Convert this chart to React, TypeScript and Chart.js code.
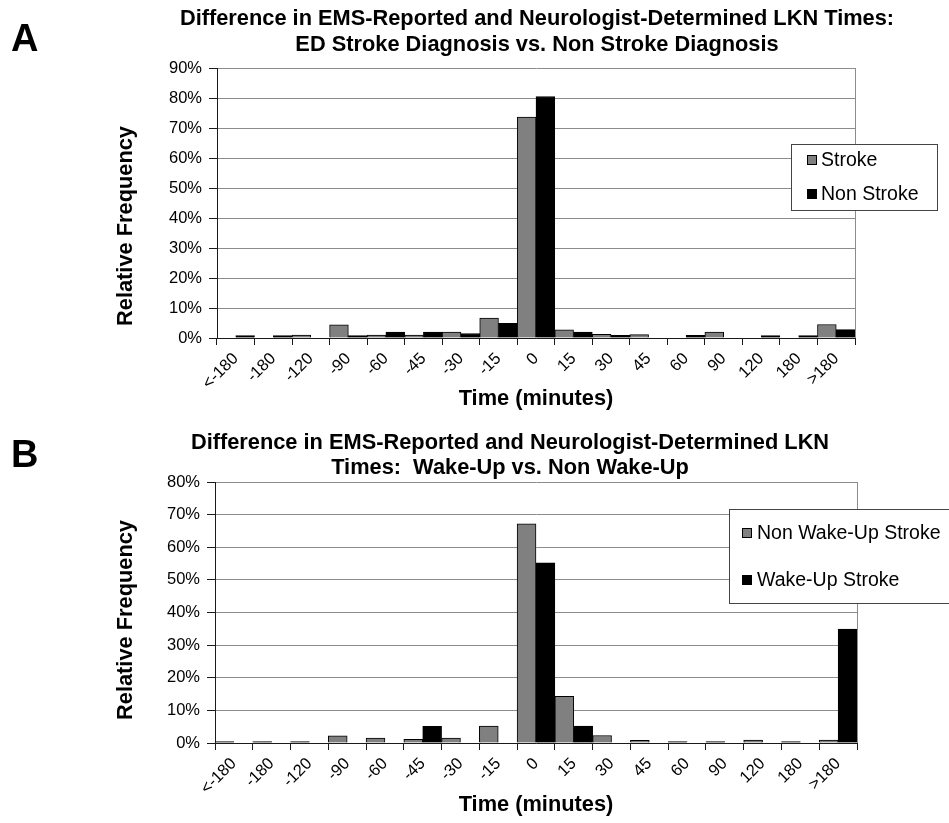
import React, { useEffect, useRef } from "react";
import { Chart, registerables } from "chart.js";

Chart.register(...registerables);

const FONT = "'Liberation Sans', Arial, Helvetica, sans-serif";

// ---- data ----
const timeCategories = ["<-180", "-180", "-120", "-90", "-60", "-45", "-30", "-15", "0", "15", "30", "45", "60", "90", "120", "180", ">180"];

// Panel A (percent)
const strokeValues = [0, 0, 1.0, 4.4, 1.0, 1.0, 2.0, 6.6, 73.6, 2.7, 1.2, 1.1, 0, 2.0, 0, 0, 4.5];
const nonStrokeValues = [0.8, 0.8, 0, 0.8, 2.0, 2.0, 1.5, 4.9, 80.5, 2.0, 0.9, 0, 0.9, 0, 0.8, 0.8, 2.8];

// Panel B (percent)
const nonWakeUpValues = [0.4, 0.4, 0.4, 2.2, 1.5, 1.1, 1.5, 5.2, 67.2, 14.3, 2.3, 0.8, 0.4, 0.4, 0.9, 0.4, 0.9];
const wakeUpValues = [0, 0, 0, 0, 0, 5.1, 0, 0, 55.2, 5.2, 0, 0, 0, 0, 0, 0, 34.9];

const yMaxA = 90;
const yMaxB = 80;
const yStep = 10;

const titleLinesA = [
  "Difference in EMS-Reported and Neurologist-Determined LKN Times:",
  "ED Stroke Diagnosis vs. Non Stroke Diagnosis",
];
const titleLinesB = [
  "Difference in EMS-Reported and Neurologist-Determined LKN",
  "Times:  Wake-Up vs. Non Wake-Up",
];
const seriesLabelsA = ["Stroke", "Non Stroke"];
const seriesLabelsB = ["Non Wake-Up Stroke", "Wake-Up Stroke"];
const yAxisTitle = "Relative Frequency";
const xAxisTitle = "Time (minutes)";

const GRAY = "#808080";
const BLACK = "#000000";
const GRID = "#8c8c8c";
const AXIS = "#1a1a1a";

type PanelCfg = {
  panel: string;
  panelX: number;
  panelY: number;
  titleLines: string[];
  titleX: number;
  titleY: number[];
  yTitleX: number;
  yTitleY: number;
  legend: { x: number; y: number; w: number; h: number; markerX: number; textX: number; rows: number[] };
};

function makeDecor(cfg: PanelCfg) {
  return {
    id: "decor",
    beforeDatasetsDraw(chart: any) {
      const { ctx, chartArea } = chart;
      ctx.save();
      ctx.strokeStyle = GRID;
      ctx.lineWidth = 1;
      const x = Math.round(chartArea.right) + 0.5;
      ctx.beginPath();
      ctx.moveTo(x, chartArea.top);
      ctx.lineTo(x, chartArea.bottom);
      ctx.stroke();
      ctx.restore();
    },
    afterDraw(chart: any) {
      const ctx = chart.ctx;
      ctx.save();
      ctx.fillStyle = "#000";
      ctx.textBaseline = "alphabetic";
      ctx.textAlign = "left";
      ctx.font = `bold 38px ${FONT}`;
      ctx.fillText(cfg.panel, cfg.panelX, cfg.panelY);

      ctx.font = `bold 21.8px ${FONT}`;
      ctx.textAlign = "center";
      cfg.titleLines.forEach((t, i) => ctx.fillText(t, cfg.titleX, cfg.titleY[i]));

      ctx.save();
      ctx.translate(cfg.yTitleX, cfg.yTitleY);
      ctx.rotate(-Math.PI / 2);
      ctx.textBaseline = "middle";
      ctx.fillText(yAxisTitle, 0, 0);
      ctx.restore();

      // legend
      const L = cfg.legend;
      ctx.fillStyle = "#ffffff";
      ctx.fillRect(L.x, L.y, L.w, L.h);
      ctx.strokeStyle = "#444";
      ctx.lineWidth = 1;
      ctx.strokeRect(L.x + 0.5, L.y + 0.5, L.w, L.h);
      ctx.font = `19.5px ${FONT}`;
      ctx.textAlign = "left";
      ctx.textBaseline = "middle";
      chart.data.datasets.forEach((ds: any, i: number) => {
        const cy = L.rows[i];
        ctx.fillStyle = ds.backgroundColor;
        ctx.fillRect(L.markerX, cy - 5, 10, 10);
        ctx.strokeStyle = "#000";
        ctx.strokeRect(L.markerX + 0.5, cy - 4.5, 9, 9);
        ctx.fillStyle = "#000";
        ctx.fillText(ds.label, L.textX, cy + 1);
      });
      ctx.restore();
    },
  };
}

function buildConfig(
  grayLabel: string,
  grayData: number[],
  blackLabel: string,
  blackData: number[],
  yMax: number,
  yWidth: number,
  xHeight: number,
  padding: { top: number; right: number; bottom: number; left: number },
  cfg: PanelCfg
): any {
  return {
    type: "bar",
    data: {
      labels: timeCategories,
      datasets: [
        {
          label: grayLabel,
          data: grayData,
          backgroundColor: GRAY,
          borderColor: BLACK,
          borderWidth: 1,
          borderSkipped: "start",
          categoryPercentage: 1,
          barPercentage: 1,
        },
        {
          label: blackLabel,
          data: blackData,
          backgroundColor: BLACK,
          borderColor: BLACK,
          borderWidth: 1,
          borderSkipped: "start",
          categoryPercentage: 1,
          barPercentage: 1,
        },
      ],
    },
    options: {
      responsive: false,
      animation: false,
      devicePixelRatio: 1,
      layout: { padding },
      plugins: {
        legend: { display: false },
        title: { display: false },
        tooltip: { enabled: false },
      },
      scales: {
        x: {
          afterFit: (s: any) => {
            s.height = xHeight;
          },
          grid: {
            display: true,
            drawOnChartArea: false,
            drawTicks: true,
            tickLength: 7,
            color: AXIS,
            offset: true,
          },
          border: { display: true, color: AXIS, width: 1 },
          ticks: {
            autoSkip: false,
            maxRotation: 45,
            minRotation: 45,
            padding: 4,
            color: "#000",
            font: { family: FONT, size: 16.5 },
          },
          title: {
            display: true,
            text: xAxisTitle,
            color: "#000",
            font: { family: FONT, size: 21.8, weight: "bold" },
            padding: { top: 0, bottom: 0 },
          },
        },
        y: {
          min: 0,
          max: yMax,
          afterFit: (s: any) => {
            s.width = yWidth;
          },
          grid: {
            color: GRID,
            lineWidth: 1,
            drawTicks: true,
            tickLength: 8,
            tickColor: AXIS,
          },
          border: { display: true, color: AXIS, width: 1 },
          ticks: {
            stepSize: yStep,
            padding: 7,
            color: "#000",
            font: { family: FONT, size: 16.5 },
            callback: (v: any) => `${v}%`,
          },
        },
      },
    },
    plugins: [makeDecor(cfg)],
  };
}

function BarPanel({ height, config }: { height: number; config: () => any }) {
  const ref = useRef<HTMLCanvasElement | null>(null);
  useEffect(() => {
    if (!ref.current) return;
    const chart = new Chart(ref.current, config());
    return () => chart.destroy();
  }, []);
  return <canvas ref={ref} width={949} height={height} style={{ display: "block", width: 949, height }} />;
}

export default function App() {
  useEffect(() => {
    document.body.style.margin = "0";
    document.body.style.background = "#ffffff";
  }, []);

  const cfgA: PanelCfg = {
    panel: "A",
    panelX: 11,
    panelY: 51,
    titleLines: titleLinesA,
    titleX: 537,
    titleY: [25, 51],
    yTitleX: 126,
    yTitleY: 226,
    legend: { x: 791, y: 144, w: 146, h: 66, markerX: 807, textX: 821, rows: [160, 194] },
  };
  const cfgB: PanelCfg = {
    panel: "B",
    panelX: 11,
    panelY: 55,
    titleLines: titleLinesB,
    titleX: 510,
    titleY: [37, 62],
    yTitleX: 126,
    yTitleY: 208,
    legend: { x: 729, y: 97, w: 240, h: 94, markerX: 742, textX: 757, rows: [121, 168] },
  };

  return (
    <div style={{ width: 949, background: "#fff" }}>
      <BarPanel
        height={412}
        config={() =>
          buildConfig(seriesLabelsA[0], strokeValues, seriesLabelsA[1], nonStrokeValues, yMaxA, 217, 74,
            { top: 68, right: 94, bottom: 0, left: 0 }, cfgA)
        }
      />
      <BarPanel
        height={411}
        config={() =>
          buildConfig(seriesLabelsB[0], nonWakeUpValues, seriesLabelsB[1], wakeUpValues, yMaxB, 215, 75,
            { top: 70, right: 92, bottom: 5, left: 0 }, cfgB)
        }
      />
    </div>
  );
}
